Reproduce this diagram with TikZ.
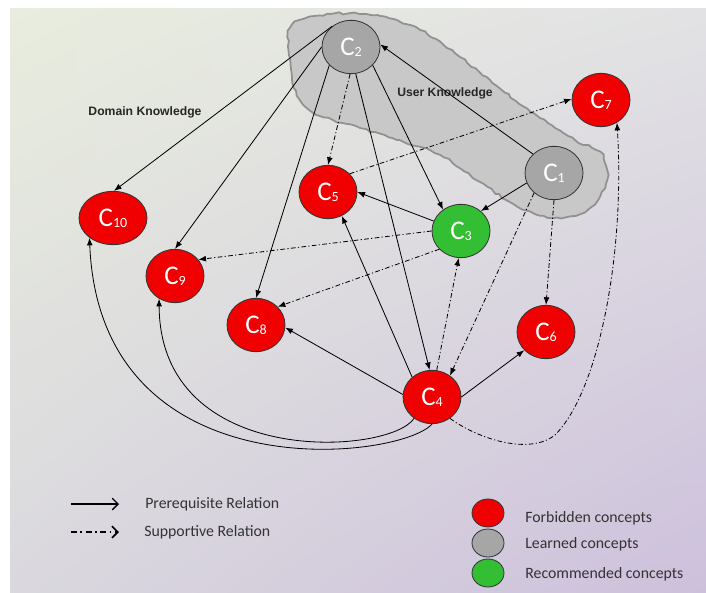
\documentclass[tikz,border=0pt]{standalone}
\usepackage{fontspec}
\setmainfont{Carlito}
\newfontfamily\headfont{Liberation Sans}
\usetikzlibrary{shapes.geometric,arrows.meta,decorations.pathmorphing,shadings}

\definecolor{conred}{RGB}{240,0,0}
\definecolor{congray}{RGB}{166,166,166}
\definecolor{congreen}{RGB}{52,190,52}
\definecolor{cloudfill}{RGB}{200,200,200}
\definecolor{cloudedge}{RGB}{145,145,145}
\definecolor{bgul}{RGB}{232,237,222}
\definecolor{bgur}{RGB}{226,226,228}
\definecolor{bgll}{RGB}{218,216,222}
\definecolor{bglr}{RGB}{205,192,220}

\newcommand\cn[1]{C\raisebox{-1pt}{\fontsize{12}{12}\selectfont #1}}

\tikzset{
  concept/.style={draw=black!80, ellipse, inner sep=0pt, minimum width=1.74cm, minimum height=1.6cm, text=white, font=\fontsize{23}{23}\selectfont},
  forbidden/.style={concept, fill=conred},
  learned/.style={concept, fill=congray},
  recommended/.style={concept, fill=congreen},
  keydot/.style={draw=black!80, ellipse, minimum width=0.96cm, minimum height=0.84cm},
  headlabel/.style={font=\headfont\bfseries\fontsize{10.4}{12}\selectfont, text=black!85},
  keylabel/.style={anchor=west, font=\fontsize{13.5}{15}\selectfont, text=black!80},
  prereq/.style={->, >={Latex[length=6.5pt,width=5pt]}},
  support/.style={->, >={Latex[length=6.5pt,width=5pt]}, dash pattern=on 4pt off 2pt on 1pt off 2pt},
  keyarrow/.style={-{Straight Barb[length=5pt,width=10pt]}, line width=1.1pt}
}

\begin{document}
\begin{tikzpicture}[x=0.03cm, y=-0.03cm, line width=0.7pt]
\useasboundingbox (0,0) rectangle (706,592);

% background
\shade[upper left=bgul, upper right=bgur, lower left=bgll, lower right=bglr] (10,9) rectangle (706,592);

% user knowledge area
\draw[fill=cloudfill, draw=cloudedge, line width=1.5pt, decorate, decoration={random steps, segment length=4pt, amplitude=1pt}]
  plot[smooth cycle] coordinates {(292,25) (330,14) (380,16) (420,30) (460,57) (497,86) (540,118) (575,140)
  (600,152) (608,175) (598,200) (580,214) (553,218) (515,205) (480,182) (440,155) (397,140) (360,128)
  (333,120) (310,110) (294,88) (289,55)};

\node[headlabel] (dk) at (145,112) {Domain Knowledge};
\node[headlabel] (uk) at (445,93) {User Knowledge};

% concepts
\node[learned] (c2) at (351,47) {\cn{2}};
\node[learned] (c1) at (554,173) {\cn{1}};
\node[forbidden] (c7) at (601,100) {\cn{7}};
\node[forbidden] (c5) at (328,192) {\cn{5}};
\node[recommended] (c3) at (461,231) {\cn{3}};
\node[forbidden] (c6) at (546,332) {\cn{6}};
\node[forbidden] (c4) at (432,397) {\cn{4}};
\node[forbidden, minimum width=2.04cm] (c10) at (113,218) {\cn{10}};
\node[forbidden] (c9) at (175,276) {\cn{9}};
\node[forbidden] (c8) at (256,325) {\cn{8}};

% prerequisite relations
\path[prereq] (c2.132) edge (c10.88);
\path[prereq] (c2.180) edge (c9.90);
\path[prereq] (c2.220) edge (c8.90);
\path[prereq] (c2.280) edge (c4.95);
\path[prereq] (c2.-40) edge (c3.130);
\path[prereq] (c1.138) edge (c2.5);
\path[prereq] (c1.200) edge (c3.45);
\path[prereq] (c3.160) edge (c5.0);
\path[prereq] (c4.175) edge (c8.-5);
\path[prereq] (c4.135) edge (c5.-60);
\path[prereq] (c4.0) edge (c6.220);
\draw[prereq] (c4.270) .. controls (400,460) and (100,495) .. (c10.220);
\draw[prereq] (c4.230) .. controls (390,455) and (160,470) .. (c9.235);

% supportive relations
\path[support] (c2.268) edge (c5.90);
\path[support] (c5.40) edge (c7.178);
\path[support] (c1.225) edge (c4.50);
\path[support] (c1.270) edge (c6.90);
\path[support] (c3.180) edge (c9.35);
\path[support] (c3.220) edge (c8.40);
\path[support] (c4.80) edge (c3.265);
\draw[support] (c4.-50) .. controls (480,440) and (530,455) .. (555,435)
  .. controls (600,390) and (625,250) .. (c7.-55);

% legend
\coordinate (ps) at (71,504);
\coordinate (pe) at (119,504);
\coordinate (ss) at (71,532);
\coordinate (se) at (119,532);
\draw[keyarrow] (ps) -- (pe);
\draw[keyarrow, line width=1.5pt, dash pattern=on 5pt off 3pt on 1.5pt off 3pt] (ss) -- (se);
\node[keylabel] (pl) at (141,504) {Prerequisite Relation};
\node[keylabel] (sl) at (140,532) {Supportive Relation};

\node[keydot, fill=conred] (kr) at (488,513) {};
\node[keydot, fill=congray] (kg) at (488,543) {};
\node[keydot, fill=congreen] (kn) at (488,573) {};
\node[keylabel] (krl) at (521,518) {Forbidden concepts};
\node[keylabel] (kgl) at (521,544) {Learned concepts};
\node[keylabel] (knl) at (521,574) {Recommended concepts};

\end{tikzpicture}
\end{document}
